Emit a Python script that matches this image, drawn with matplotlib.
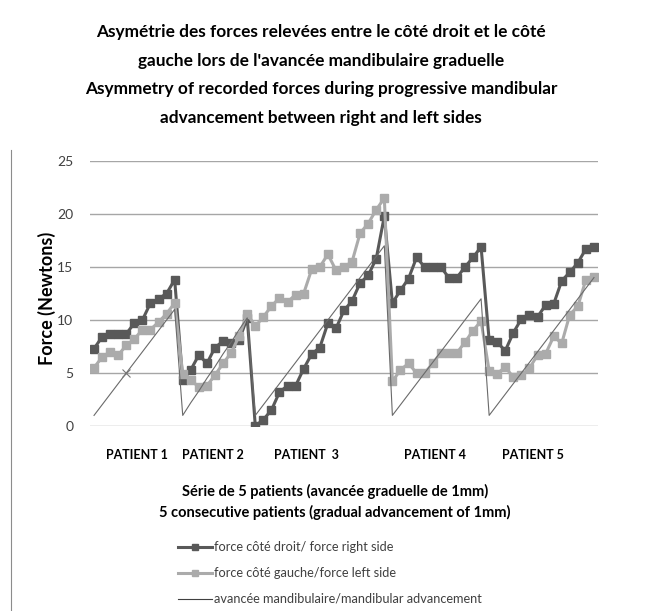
import matplotlib
matplotlib.use("Agg")
import matplotlib.pyplot as plt
from matplotlib.lines import Line2D

plt.rcParams['font.family'] = ['Lato', 'DejaVu Sans']

# ---- data ----
right_p1 = [7.3, 8.4, 8.7, 8.7, 8.7, 9.7, 10.0, 11.6, 12.0, 12.5, 13.8]
right_p2 = [4.3, 5.3, 6.7, 5.9, 7.4, 8.0, 7.8, 8.1, 10.2]
right_p3 = [0.0, 0.6, 1.5, 3.2, 3.8, 3.8, 5.4, 6.8, 7.4, 9.7, 9.2, 10.9, 11.8, 13.5, 14.2, 15.8, 19.8]
right_p4 = [11.6, 12.8, 13.9, 15.9, 15.0, 15.0, 15.0, 14.0, 14.0, 15.0, 15.9, 16.9]
right_p5 = [8.1, 7.9, 7.1, 8.8, 10.1, 10.5, 10.3, 11.4, 11.5, 13.7, 14.5, 15.4, 16.7, 16.9]

left_p1 = [5.5, 6.5, 7.0, 6.7, 7.6, 8.2, 9.1, 9.1, 9.8, 10.6, 11.6]
left_p2 = [4.9, 4.3, 3.7, 3.8, 4.8, 5.9, 6.9, 8.5, 10.6]
left_p3 = [9.4, 10.3, 11.3, 12.1, 11.7, 12.4, 12.5, 14.8, 15.0, 16.2, 14.7, 15.0, 15.5, 18.2, 19.1, 20.4, 21.5]
left_p4 = [4.2, 5.3, 5.9, 5.0, 5.0, 5.9, 6.9, 6.9, 6.9, 7.9, 9.0, 9.9]
left_p5 = [5.2, 4.95, 5.55, 4.6, 4.8, 5.45, 6.7, 6.8, 8.45, 7.8, 10.5, 11.3, 13.8, 14.1]

adv_p1 = [1, 2, 3, 4, 5, 6, 7, 8, 9, 10, 11]
adv_p2 = [1, 2.2, 3.3, 4.5, 5.6, 6.8, 7.9, 9.1, 10.2]
adv_p3 = [1, 2, 3, 4, 5, 6, 7, 8, 9, 10, 11, 12, 13, 14, 15, 16, 17]
adv_p4 = [1, 2, 3, 4, 5, 6, 7, 8, 9, 10, 11, 12]
adv_p5 = [1, 2, 3, 4, 5, 6, 7, 8, 9, 10, 11, 12, 13, 14]

patients = ["PATIENT 1", "PATIENT 2", "PATIENT  3", "PATIENT 4", "PATIENT 5"]
yticks = [0, 5, 10, 15, 20, 25]

title = ("Asymétrie des forces relevées entre le côté droit et le côté\n"
         "gauche lors de l'avancée mandibulaire graduelle\n"
         "Asymmetry of recorded forces during progressive mandibular\n"
         "advancement between right and left sides")
xtitle = ("Série de 5 patients (avancée graduelle de 1mm)\n"
          "5 consecutive patients (gradual advancement of 1mm)")
ylabel = "Force (Newtons)"
leg_labels = ["force côté droit/ force right side",
              "force côté gauche/force left side",
              "avancée mandibulaire/mandibular advancement"]

right = right_p1 + right_p2 + right_p3 + right_p4 + right_p5
left = left_p1 + left_p2 + left_p3 + left_p4 + left_p5
adv = adv_p1 + adv_p2 + adv_p3 + adv_p4 + adv_p5
x = list(range(len(right)))

W, H = 653, 611
fig = plt.figure(figsize=(W / 100, H / 100), dpi=100)
fig.patch.set_facecolor('white')

ax = fig.add_axes([90 / W, 1 - 426 / H, (598 - 90) / W, (426 - 161) / H])
DARK = '#595959'
LIGHT = '#ababab'
ax.plot(x, right, color=DARK, lw=2.2, marker='s', ms=5.5, mec=DARK, mfc=DARK, zorder=3)
ax.plot(x, left, color=LIGHT, lw=2.2, marker='s', ms=5.5, mec=LIGHT, mfc=LIGHT, zorder=4)
ax.plot(x, adv, color='#6a6a6a', lw=0.8, zorder=5)
ax.plot([x[4]], [adv[4]], marker='x', color='#777777', ms=6, mew=0.8, zorder=5)

ax.set_xlim(-0.5, len(x) - 0.5)
ax.set_ylim(0, 25)
ax.set_yticks(yticks)
ax.set_yticklabels([str(v) for v in yticks], fontsize=10, color='#404040')
ax.tick_params(axis='y', length=0, pad=12)
ax.set_xticks([])
ax.grid(axis='y', color='#a6a6a6', lw=1.0)
ax.set_axisbelow(True)
for s in ax.spines.values():
    s.set_visible(False)

# chart frame line on the left
fig.add_artist(Line2D([10.5 / W, 10.5 / W], [0, 1 - 150 / H], color='#8c8c8c', lw=0.8))

# y label
fig.text(47 / W, 1 - 298 / H, ylabel, rotation=90, ha='center', va='center',
         fontsize=13, fontweight='bold', color='#000000')

# title
fig.text(321 / W, 1 - 75 / H, title, ha='center', va='center', fontsize=12.4,
         fontweight='bold', color='#000000', linespacing=1.98)

# patient labels
pat_x = [137, 213, 306, 435, 533]
for px, name in zip(pat_x, patients):
    fig.text(px / W, 1 - 455 / H, name, ha='center', va='center', fontsize=9,
             fontweight='bold', color='#000000')

# x-axis title
fig.text(335 / W, 1 - 502 / H, xtitle, ha='center', va='center', fontsize=10.5,
         fontweight='bold', color='#000000', linespacing=1.5)

# legend
handles = [Line2D([], [], color=DARK, lw=2.2, marker='s', ms=5),
           Line2D([], [], color=LIGHT, lw=2.2, marker='s', ms=5),
           Line2D([], [], color='#404040', lw=0.8)]
leg = fig.legend(handles, leg_labels, loc='upper left',
                 bbox_to_anchor=(172 / W, 1 - 535 / H), frameon=False,
                 fontsize=9.2, handlelength=2.6, handletextpad=0.2, labelspacing=1.08,
                 labelcolor='#404040', borderpad=0)

fig.savefig('out.png', dpi=100, facecolor='white')
